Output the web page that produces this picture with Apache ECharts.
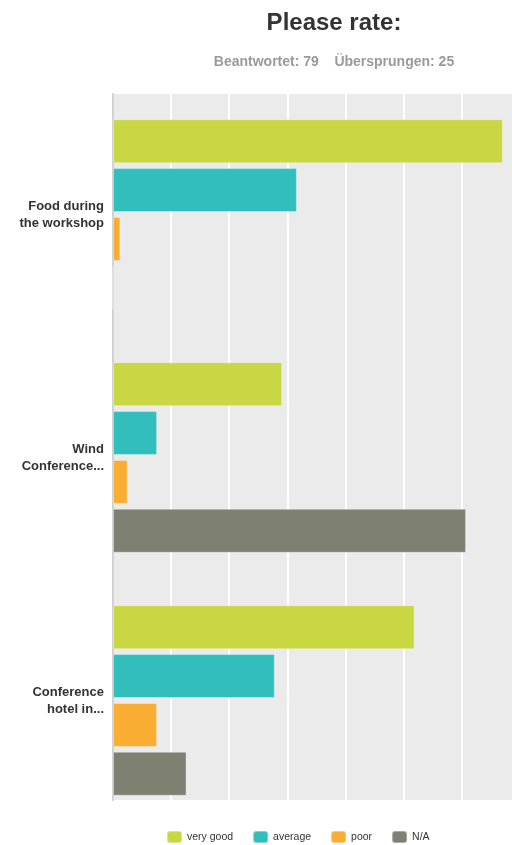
<!DOCTYPE html>
<html>
<head>
<meta charset="utf-8">
<script src="https://cdn.jsdelivr.net/npm/echarts@6/dist/echarts.min.js"></script>
<style>html,body{margin:0;padding:0;background:#fff;overflow:hidden}#c{width:512px;height:845px}</style>
</head>
<body>
<div id="c"></div>
<script>
var categories = ['Food during\nthe workshop', 'Wind\nConference...', 'Conference\nhotel in...'];
var seriesNames = ['very good', 'average', 'poor', 'N/A'];
var veryGood = [67.09, 29.11, 51.90];
var average = [31.65, 7.59, 27.85];
var poor = [1.27, 2.53, 7.59];
var na = [0, 60.76, 12.66];
var colors = ['#C8D742', '#32BEBD', '#F9AE33', '#7E8072'];
var titleText = 'Please rate:';
var subText = 'Beantwortet: 79    Übersprungen: 25';
var axisMax = 68.67;
var axisStep = 10;

var chart = echarts.init(document.getElementById('c'));
var values = [veryGood, average, poor, na];
var font = '"Liberation Sans", Arial, sans-serif';
chart.setOption({
  animation: false,
  backgroundColor: '#fff',
  title: {
    text: titleText,
    subtext: subText,
    left: 329,
    textAlign: 'center',
    top: 6,
    itemGap: 20,
    textStyle: { fontFamily: font, fontSize: 24, fontWeight: 'bold', color: '#333' },
    subtextStyle: { fontFamily: font, fontSize: 14, fontWeight: 'bold', color: '#9a9a9a' }
  },
  legend: {
    data: seriesNames,
    left: 166,
    top: 830,
    padding: 0,
    itemWidth: 15,
    itemHeight: 12,
    itemGap: 19,
    icon: 'roundRect',
    textStyle: { fontFamily: font, fontSize: 10.5, color: '#333' }
  },
  grid: [
    { left: 113, right: 0, top: 93, height: 729, show: false, containLabel: false },
    { left: 113, right: 0, top: 94, bottom: 45, show: true, backgroundColor: '#EBEBEB', borderWidth: 0, z: 0 }
  ],
  xAxis: [
    { gridIndex: 0, type: 'value', min: 0, max: axisMax, interval: axisStep, show: false, splitLine: { show: false } },
    { gridIndex: 1, type: 'value', min: 0, max: axisMax, interval: axisStep,
      axisLabel: { show: false }, axisTick: { show: false }, axisLine: { show: false },
      splitLine: { show: true, showMaxLine: false, lineStyle: { color: '#ffffff', width: 2 } } }
  ],
  yAxis: [
    { gridIndex: 0, type: 'category', data: categories, inverse: true,
      axisTick: { show: false }, axisLine: { show: false }, splitLine: { show: false },
      axisLabel: { fontFamily: font, fontSize: 13, fontWeight: 'bold', color: '#333', lineHeight: 17, margin: 9, align: 'right' } },
    { gridIndex: 1, type: 'value', min: 0, max: 1,
      axisLabel: { show: false }, axisTick: { show: false }, splitLine: { show: false },
      axisLine: { show: true, lineStyle: { color: '#D2D2D2', width: 2 } } }
  ],
  series: seriesNames.map(function (n, i) {
    return {
      name: n, type: 'bar', data: values[i], xAxisIndex: 0, yAxisIndex: 0,
      barWidth: 44, barGap: '11%',
      itemStyle: { color: colors[i], borderColor: 'rgba(255,255,255,0.35)', borderWidth: 1 }
    };
  })
});
</script>
</body>
</html>
